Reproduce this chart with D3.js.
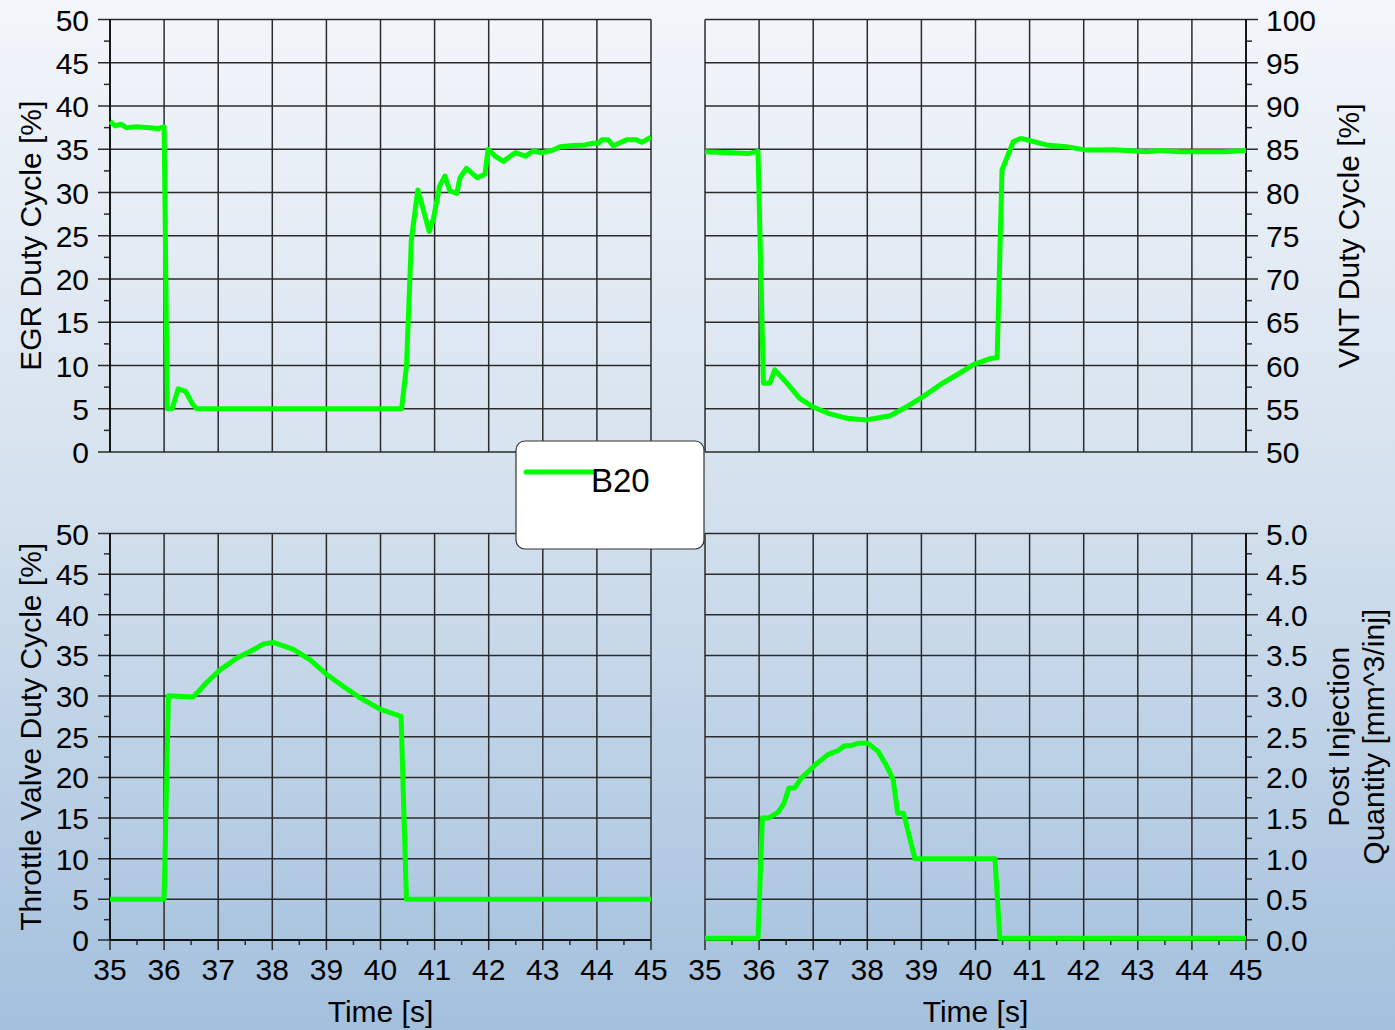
<!DOCTYPE html>
<html>
<head>
<meta charset="utf-8">
<script src="https://cdn.jsdelivr.net/npm/d3@7"></script>
<style>
  html, body { margin: 0; padding: 0; }
  body { width: 1395px; height: 1030px; overflow: hidden; }
  svg text { font-family: "Liberation Sans", Arial, sans-serif; fill: #000; }
</style>
</head>
<body>
<div id="chart"></div>
<script>
// 資料 (時間 [s], 數值)
var egrTime = [35.0, 35.1, 35.2, 35.3, 35.5, 35.9, 36.0, 36.06, 36.15, 36.26, 36.4, 36.52, 36.6, 40.39, 40.48, 40.57, 40.69, 40.9, 40.98, 41.09, 41.19, 41.28, 41.41, 41.47, 41.59, 41.79, 41.93, 41.99, 42.12, 42.27, 42.49, 42.68, 42.82, 42.98, 43.19, 43.32, 43.5, 43.78, 43.93, 44.03, 44.09, 44.21, 44.3, 44.55, 44.73, 44.83, 45.0];
var egrValue = [38.2, 37.7, 37.9, 37.5, 37.6, 37.4, 37.6, 5.0, 5.0, 7.3, 7.0, 5.6, 5.0, 5.0, 9.9, 24.5, 30.3, 25.5, 27.0, 30.7, 31.9, 30.2, 29.9, 31.7, 32.8, 31.7, 32.1, 35.0, 34.2, 33.6, 34.6, 34.2, 34.8, 34.6, 34.9, 35.3, 35.4, 35.5, 35.7, 35.7, 36.1, 36.1, 35.4, 36.1, 36.1, 35.8, 36.4];

var vntTime = [35.0, 35.8, 35.98, 36.08, 36.2, 36.29, 36.51, 36.75, 37.0, 37.31, 37.62, 37.98, 38.42, 38.72, 39.03, 39.34, 39.65, 39.96, 40.27, 40.4, 40.49, 40.7, 40.82, 40.88, 41.31, 41.68, 42.05, 42.55, 43.16, 43.41, 43.78, 44.58, 45.0];
var vntValue = [84.7, 84.5, 84.75, 57.95, 57.95, 59.5, 58.0, 56.2, 55.2, 54.4, 53.9, 53.7, 54.2, 55.2, 56.4, 57.75, 58.9, 60.1, 60.8, 60.9, 82.6, 85.9, 86.2, 86.2, 85.5, 85.3, 84.9, 84.95, 84.7, 84.85, 84.7, 84.7, 84.85];

var thrTime = [35.0, 36.0, 36.08, 36.54, 36.66, 36.79, 37.03, 37.34, 37.65, 37.83, 38.02, 38.39, 38.7, 39.0, 39.31, 39.62, 39.99, 40.38, 40.48, 45.0];
var thrValue = [5.0, 5.0, 30.05, 29.9, 30.75, 31.7, 33.2, 34.65, 35.7, 36.4, 36.6, 35.75, 34.45, 32.7, 31.2, 29.8, 28.4, 27.5, 5.0, 5.0];

var postTime = [35.0, 35.98, 36.06, 36.17, 36.35, 36.46, 36.55, 36.66, 36.78, 37.03, 37.27, 37.46, 37.58, 37.7, 37.83, 38.01, 38.2, 38.35, 38.48, 38.56, 38.67, 38.88, 40.36, 40.45, 45.0];
var postValue = [0.02, 0.02, 1.5, 1.5, 1.57, 1.68, 1.87, 1.87, 1.99, 2.15, 2.28, 2.33, 2.39, 2.39, 2.42, 2.42, 2.32, 2.15, 1.97, 1.56, 1.56, 1.0, 1.0, 0.02, 0.02];

var xTicks = [35, 36, 37, 38, 39, 40, 41, 42, 43, 44, 45];
var seriesName = 'B20';

// 畫布
const W = 1395, H = 1030;
var svg = d3.select('#chart').append('svg')
  .attr('width', W).attr('height', H);

var grad = svg.append('defs').append('linearGradient')
  .attr('id', 'bg').attr('x1', 0).attr('y1', 0).attr('x2', 0).attr('y2', 1);
grad.append('stop').attr('offset', '0%').attr('stop-color', '#f3f6fb');
grad.append('stop').attr('offset', '50%').attr('stop-color', '#d3e0ed');
grad.append('stop').attr('offset', '100%').attr('stop-color', '#a3c0dd');
svg.append('rect').attr('width', W).attr('height', H).attr('fill', 'url(#bg)');

const fontSize = 30;
const gridColor = '#2b2b2b';

// 四個面板
var panels = [
  { t: egrTime, v: egrValue, x0: 110, x1: 651, yTop: 19.5, yBot: 452, dom: [0, 50], step: 5, side: 'left',
    title: ['EGR Duty Cycle [%]'], fmt: d3.format('d'), xLabels: false },
  { t: vntTime, v: vntValue, x0: 705, x1: 1246, yTop: 19.5, yBot: 452, dom: [50, 100], step: 5, side: 'right',
    title: ['VNT Duty Cycle [%]'], fmt: d3.format('d'), xLabels: false },
  { t: thrTime, v: thrValue, x0: 110, x1: 651, yTop: 533.5, yBot: 940, dom: [0, 50], step: 5, side: 'left',
    title: ['Throttle Valve Duty Cycle [%]'], fmt: d3.format('d'), xLabels: true },
  { t: postTime, v: postValue, x0: 705, x1: 1246, yTop: 533.5, yBot: 940, dom: [0, 5], step: 0.5, side: 'right',
    title: ['Post Injection', 'Quantity [mm^3/inj]'], fmt: d3.format('.1f'), xLabels: true }
];

panels.forEach(function(p) {
  var x = d3.scaleLinear().domain([35, 45]).range([p.x0, p.x1]);
  var y = d3.scaleLinear().domain(p.dom).range([p.yBot, p.yTop]);
  var yTicks = d3.range(p.dom[0], p.dom[1] + p.step / 2, p.step);
  var yMinor = d3.range(p.dom[0] + p.step / 2, p.dom[1], p.step);
  var g = svg.append('g');

  // 水平格線 (延伸成主刻度)
  var ext = p.side === 'left' ? [p.x0 - 12, p.x1] : [p.x0, p.x1 + 12];
  g.selectAll('line.hgrid').data(yTicks).enter().append('line')
    .attr('x1', ext[0]).attr('x2', ext[1])
    .attr('y1', d => y(d)).attr('y2', d => y(d))
    .attr('stroke', gridColor).attr('stroke-width', 1.5);

  // 垂直格線
  var yEnd = p.xLabels ? p.yBot + 10 : p.yBot;
  g.selectAll('line.vgrid').data(xTicks).enter().append('line')
    .attr('x1', d => x(d)).attr('x2', d => x(d))
    .attr('y1', p.yTop).attr('y2', yEnd)
    .attr('stroke', gridColor).attr('stroke-width', 1.5);

  // 副刻度 y
  var ax = p.side === 'left' ? p.x0 : p.x1;
  var dir = p.side === 'left' ? -1 : 1;
  g.selectAll('line.ym').data(yMinor).enter().append('line')
    .attr('x1', ax).attr('x2', ax + dir * 6)
    .attr('y1', d => y(d)).attr('y2', d => y(d))
    .attr('stroke', gridColor).attr('stroke-width', 1.5);
  g.append('line')
    .attr('x1', ax).attr('x2', ax).attr('y1', p.yTop).attr('y2', p.yBot)
    .attr('stroke', '#000').attr('stroke-width', 1.5);

  // y 刻度文字
  g.selectAll('text.ytick').data(yTicks).enter().append('text')
    .attr('x', p.side === 'left' ? ax - 21 : ax + 20)
    .attr('y', d => y(d) + 11)
    .style('font-size', fontSize + 'px')
    .style('text-anchor', p.side === 'left' ? 'end' : 'start')
    .text(d => p.fmt(d));

  if (p.xLabels) {
    var xMinor = d3.range(35.5, 45, 1);
    g.selectAll('line.xm').data(xMinor).enter().append('line')
      .attr('x1', d => x(d)).attr('x2', d => x(d))
      .attr('y1', p.yBot).attr('y2', p.yBot + 5)
      .attr('stroke', gridColor).attr('stroke-width', 1.5);
    g.append('line')
      .attr('x1', p.x0).attr('x2', p.x1).attr('y1', p.yBot).attr('y2', p.yBot)
      .attr('stroke', '#000').attr('stroke-width', 1.5);
    g.selectAll('text.xtick').data(xTicks).enter().append('text')
      .attr('x', d => x(d)).attr('y', p.yBot + 40)
      .style('font-size', fontSize + 'px')
      .style('text-anchor', 'middle')
      .text(d => d);
    g.append('text')
      .attr('x', (p.x0 + p.x1) / 2).attr('y', p.yBot + 82)
      .style('font-size', fontSize + 'px')
      .style('text-anchor', 'middle')
      .text('Time [s]');
  }

  // 軸標題
  var cy = (p.yTop + p.yBot) / 2;
  var tx;
  if (p.side === 'left') tx = [41];
  else if (p.title.length === 1) tx = [1359];
  else tx = [1349, 1384];
  p.title.forEach(function(s, i) {
    g.append('text')
      .attr('transform', `translate(${tx[i]},${cy}) rotate(-90)`)
      .style('font-size', fontSize + 'px')
      .style('text-anchor', 'middle')
      .text(s);
  });

  // 曲線
  var pts = p.t.map((d, i) => [d, p.v[i]]);
  g.append('path')
    .datum(pts)
    .attr('d', d3.line().x(d => x(d[0])).y(d => y(d[1])))
    .attr('fill', 'none')
    .attr('stroke', '#00ff00')
    .attr('stroke-width', 5)
    .attr('stroke-linejoin', 'round');
});

// 圖例
var lg = svg.append('g');
lg.append('rect')
  .attr('x', 516).attr('y', 441).attr('width', 188).attr('height', 108)
  .attr('rx', 9).attr('ry', 9)
  .attr('fill', '#fff').attr('stroke', '#333').attr('stroke-width', 1.2);
lg.append('line')
  .attr('x1', 526).attr('x2', 592).attr('y1', 472).attr('y2', 472)
  .attr('stroke', '#00ff00').attr('stroke-width', 5).attr('stroke-linecap', 'round');
lg.append('text')
  .attr('x', 591).attr('y', 492)
  .style('font-size', '33px')
  .text(seriesName);
</script>
</body>
</html>
